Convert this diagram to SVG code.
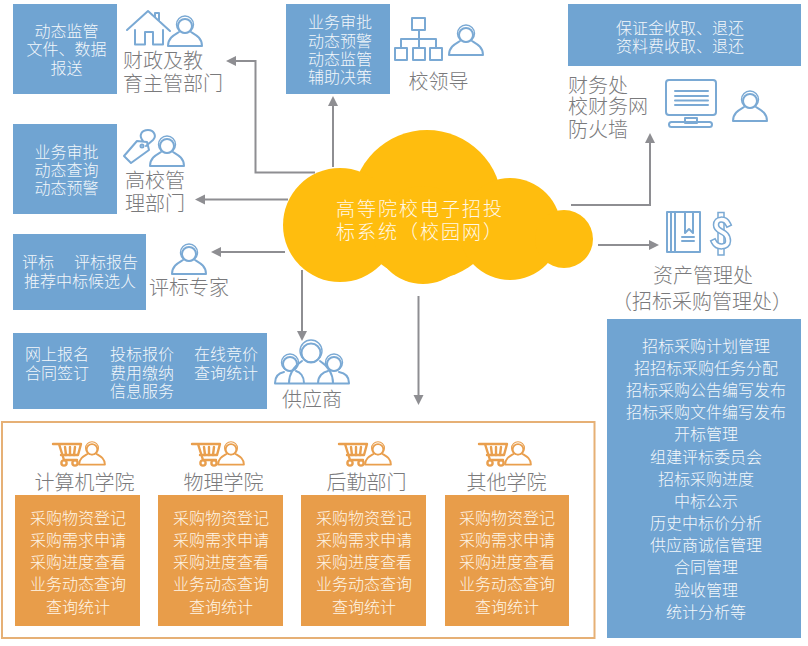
<svg xmlns="http://www.w3.org/2000/svg" xmlns:xlink="http://www.w3.org/1999/xlink" width="808" height="646" viewBox="0 0 808 646">
<style>
text{font-family:"Noto Sans CJK SC","Noto Sans",sans-serif;font-weight:300}
.b{fill:#fff;font-size:16px;opacity:.92}
.m{text-anchor:middle}
.l{fill:#7a7a7c;font-size:20px}
.o{fill:#fff6e8;font-size:16px;text-anchor:middle}
.box{fill:#70a4d2}
.obox{fill:#e89d4a}
.ic{fill:none;stroke:#7aa9d4;stroke-width:2;stroke-linejoin:round;stroke-linecap:round}
.oc{fill:none;stroke:#e99f4e;stroke-width:2.4;stroke-linejoin:round;stroke-linecap:round}
.c{fill:none;stroke:#8e8e92;stroke-width:2}
.arr{marker-end:url(#a)}
</style>
<defs>
<marker id="a" markerUnits="userSpaceOnUse" markerWidth="12" markerHeight="12" viewBox="0 0 12 12" refX="2" refY="6" orient="auto"><path d="M1,1 L11,6 L1,11 Z" fill="#8e8e92"/></marker>
<g id="person"><circle cx="0" cy="11" r="7"/><circle cx="0" cy="9.500" r="8.500" stroke-width="1.400"/><path d="M-6,17 C-11,20 -17,23 -17,31 H17 C17,23 11,20 6,17"/></g>
<g id="cart"><path d="M0,1 H6 L11,17 H24 M3.500,1 H28 L25,12 H8"/><path d="M12,4 L13,12 M17,4 V12 M22,4 L21,12"/><circle cx="11" cy="20" r="2.600"/><circle cx="22" cy="20" r="2.600"/></g>
</defs>

<g id="connectors">
<path class="c arr" d="M315,172.500 H255.500 V61 H235"/>
<path class="c arr" d="M333,167 V105"/>
<path class="c arr" d="M288,199.500 H204"/>
<path class="c arr" d="M285,252 H220"/>
<path class="c arr" d="M302,270 V332"/>
<path class="c arr" d="M418.500,296 V396"/>
<path class="c arr" d="M571,205 H650 V142"/>
<path class="c arr" d="M598,245 H650"/>
</g>

<g id="cloud">
<g fill="#ffbd0e"><circle cx="427" cy="205" r="75"/><circle cx="340" cy="225" r="57"/><circle cx="423" cy="235" r="49"/><circle cx="510" cy="229" r="51"/><circle cx="564" cy="239" r="29"/></g>
<text x="336" y="216" fill="#fff8e6" font-size="19" letter-spacing="2">高等院校电子招投</text>
<text x="336" y="239" fill="#fff8e6" font-size="19" letter-spacing="2">标系统（校园网）</text>
</g>

<g id="finance-edu">
<rect class="box" x="13" y="4" width="104" height="90"/>
<text class="b m" x="66.500" y="37">动态监管</text><text class="b m" x="66.500" y="55">文件、数据</text><text class="b m" x="66.500" y="74">报送</text>
<path class="ic" d="M127,30 L148,11 L170,31 M135,30 V44.500 H145 V32 H153 V44.500 H163 V30 M155,17 V13 H159 V21"/>
<use href="#person" class="ic" x="185" y="15"/>
<text class="l" x="123" y="68">财政及教</text><text class="l" x="123" y="91">育主管部门</text>
</g>

<g id="university">
<rect class="box" x="13" y="124" width="104" height="90"/>
<text class="b m" x="66.500" y="158">业务审批</text><text class="b m" x="66.500" y="176">动态查询</text><text class="b m" x="66.500" y="194">动态预警</text>
<path class="ic" d="M137,141 L147,142 L149,150 L131,163 L124,156 Z M143,141 C138,135 142,130 148,130 C154,130 157,136 153,140 L146,146"/>
<circle class="ic" cx="142" cy="146" r="1.500"/>
<use href="#person" class="ic" x="167" y="135"/>
<text class="l" x="125" y="188">高校管</text><text class="l" x="125" y="211">理部门</text>
</g>

<g id="leaders">
<rect class="box" x="286" y="4" width="104" height="90"/>
<text class="b m" x="340" y="28">业务审批</text><text class="b m" x="340" y="47">动态预警</text><text class="b m" x="340" y="65">动态监管</text><text class="b m" x="340" y="83">辅助决策</text>
<g class="ic"><rect x="412" y="18" width="13" height="12"/><rect x="395" y="48" width="12" height="12"/><rect x="413" y="48" width="12" height="12"/><rect x="430" y="48" width="12" height="12"/><path d="M419,30 V48 M401,48 V39 H436 V48"/></g>
<use href="#person" class="ic" x="466" y="24"/>
<text class="l m" x="438.500" y="89">校领导</text>
</g>

<g id="finance-office">
<rect class="box" x="568" y="4" width="233" height="62"/>
<text class="b m" x="680" y="34">保证金收取、退还</text><text class="b m" x="680" y="52">资料费收取、退还</text>
<g class="ic"><rect x="666" y="80" width="50" height="35" rx="3"/><path d="M675,91 H708 M675,96 H708 M675,100.500 H708 M675,105 H708"/><rect x="685" y="118" width="12" height="5"/><rect x="669" y="122" width="43" height="5" rx="2.500"/></g>
<use href="#person" class="ic" x="750" y="90"/>
<text class="l" x="568" y="93">财务处</text><text class="l" x="568" y="114">校财务网</text><text class="l" x="568" y="137">防火墙</text>
</g>

<g id="asset-office">
<g class="ic"><rect x="667" y="212" width="33" height="40"/><path d="M671,212 V252 M675,212 V252 M685,212 V233 L689,229 L693,233 V212 M682,237 H694 M682,241 H694"/></g>
<path d="M718,212.500 H724 V255 H718 Z" fill="#fff" stroke="#7aa9d4" stroke-width="1.500"/>
<path d="M728,224 C725,218 716,218 716,225 C716,233 728,230 728,241 C728,248 717,248 714,242" fill="none" stroke="#7aa9d4" stroke-width="6.500" stroke-linecap="square"/>
<path d="M728,224 C725,218 716,218 716,225 C716,233 728,230 728,241 C728,248 717,248 714,242" fill="none" stroke="#fff" stroke-width="3.500" stroke-linecap="square"/>
<text class="l m" x="703" y="283">资产管理处</text><text class="l m" x="702" y="309">（招标采购管理处）</text>
<rect class="box" x="607" y="319" width="194" height="319"/>
<g class="b m"><text x="706" y="352">招标采购计划管理</text><text x="706" y="374">招招标采购任务分配</text><text x="706" y="396">招标采购公告编写发布</text><text x="706" y="418">招标采购文件编写发布</text><text x="706" y="440">开标管理</text><text x="706" y="463">组建评标委员会</text><text x="706" y="485">招标采购进度</text><text x="706" y="507">中标公示</text><text x="706" y="529">历史中标价分析</text><text x="706" y="551">供应商诚信管理</text><text x="706" y="573">合同管理</text><text x="706" y="596">验收管理</text><text x="706" y="618">统计分析等</text></g>
</g>

<g id="experts">
<rect class="box" x="13" y="234" width="133" height="76"/>
<text class="b" x="22" y="268">评标</text><text class="b" x="74" y="268">评标报告</text><text class="b" x="24" y="287">推荐中标候选人</text>
<use href="#person" class="ic" x="189" y="243"/>
<text class="l m" x="189" y="295">评标专家</text>
</g>

<g id="suppliers">
<rect class="box" x="13" y="333" width="254" height="76"/>
<text class="b" x="25" y="360">网上报名</text><text class="b" x="25" y="379">合同签订</text>
<text class="b" x="110" y="360">投标报价</text><text class="b" x="110" y="379">费用缴纳</text><text class="b" x="110" y="397">信息服务</text>
<text class="b" x="194" y="360">在线竞价</text><text class="b" x="194" y="379">查询统计</text>
<g class="ic"><circle cx="311" cy="353" r="9.500"/><circle cx="311" cy="351" r="11" stroke-width="1.400"/><circle cx="290" cy="364" r="7"/><circle cx="290" cy="362.500" r="8.500" stroke-width="1.400"/><circle cx="334" cy="364" r="7"/><circle cx="334" cy="362.500" r="8.500" stroke-width="1.400"/><path d="M275,383.500 H349 M275,383 C275,376 279,373 284,372 M349,383 C349,376 345,373 339,372 M289,383 C289,372 296,365 302,361 M333,383 C333,372 326,365 320,361 M304,383 C304,376 300,372 296,371 M318,383 C318,376 323,372 328,371"/></g>
<text class="l m" x="312" y="407">供应商</text>
</g>

<g id="departments">
<rect x="2" y="422" width="592.500" height="216" fill="none" stroke="#e6b075" stroke-width="2"/>
</g>
<g id="dept-computer">
<use href="#cart" class="oc" x="53" y="443"/><use href="#person" class="oc" transform="translate(92 441) scale(.76)"/>
<text class="l m" x="84.500" y="490">计算机学院</text>
<rect class="obox" x="15" y="495" width="125" height="131"/>
<text class="o" x="78" y="524">采购物资登记</text><text class="o" x="78" y="546">采购需求申请</text><text class="o" x="78" y="568">采购进度查看</text><text class="o" x="78" y="590">业务动态查询</text><text class="o" x="78" y="613">查询统计</text>
</g>
<g id="dept-physics">
<use href="#cart" class="oc" x="192" y="443"/><use href="#person" class="oc" transform="translate(231 441) scale(.76)"/>
<text class="l m" x="223.500" y="490">物理学院</text>
<rect class="obox" x="158" y="495" width="125" height="131"/>
<text class="o" x="221" y="524">采购物资登记</text><text class="o" x="221" y="546">采购需求申请</text><text class="o" x="221" y="568">采购进度查看</text><text class="o" x="221" y="590">业务动态查询</text><text class="o" x="221" y="613">查询统计</text>
</g>
<g id="dept-logistics">
<use href="#cart" class="oc" x="339" y="443"/><use href="#person" class="oc" transform="translate(378 441) scale(.76)"/>
<text class="l m" x="366.500" y="490">后勤部门</text>
<rect class="obox" x="301" y="495" width="125" height="131"/>
<text class="o" x="364" y="524">采购物资登记</text><text class="o" x="364" y="546">采购需求申请</text><text class="o" x="364" y="568">采购进度查看</text><text class="o" x="364" y="590">业务动态查询</text><text class="o" x="364" y="613">查询统计</text>
</g>
<g id="dept-other">
<use href="#cart" class="oc" x="479" y="443"/><use href="#person" class="oc" transform="translate(518 441) scale(.76)"/>
<text class="l m" x="506.500" y="490">其他学院</text>
<rect class="obox" x="445" y="495" width="124" height="131"/>
<text class="o" x="507" y="524">采购物资登记</text><text class="o" x="507" y="546">采购需求申请</text><text class="o" x="507" y="568">采购进度查看</text><text class="o" x="507" y="590">业务动态查询</text><text class="o" x="507" y="613">查询统计</text>
</g>
</svg>
